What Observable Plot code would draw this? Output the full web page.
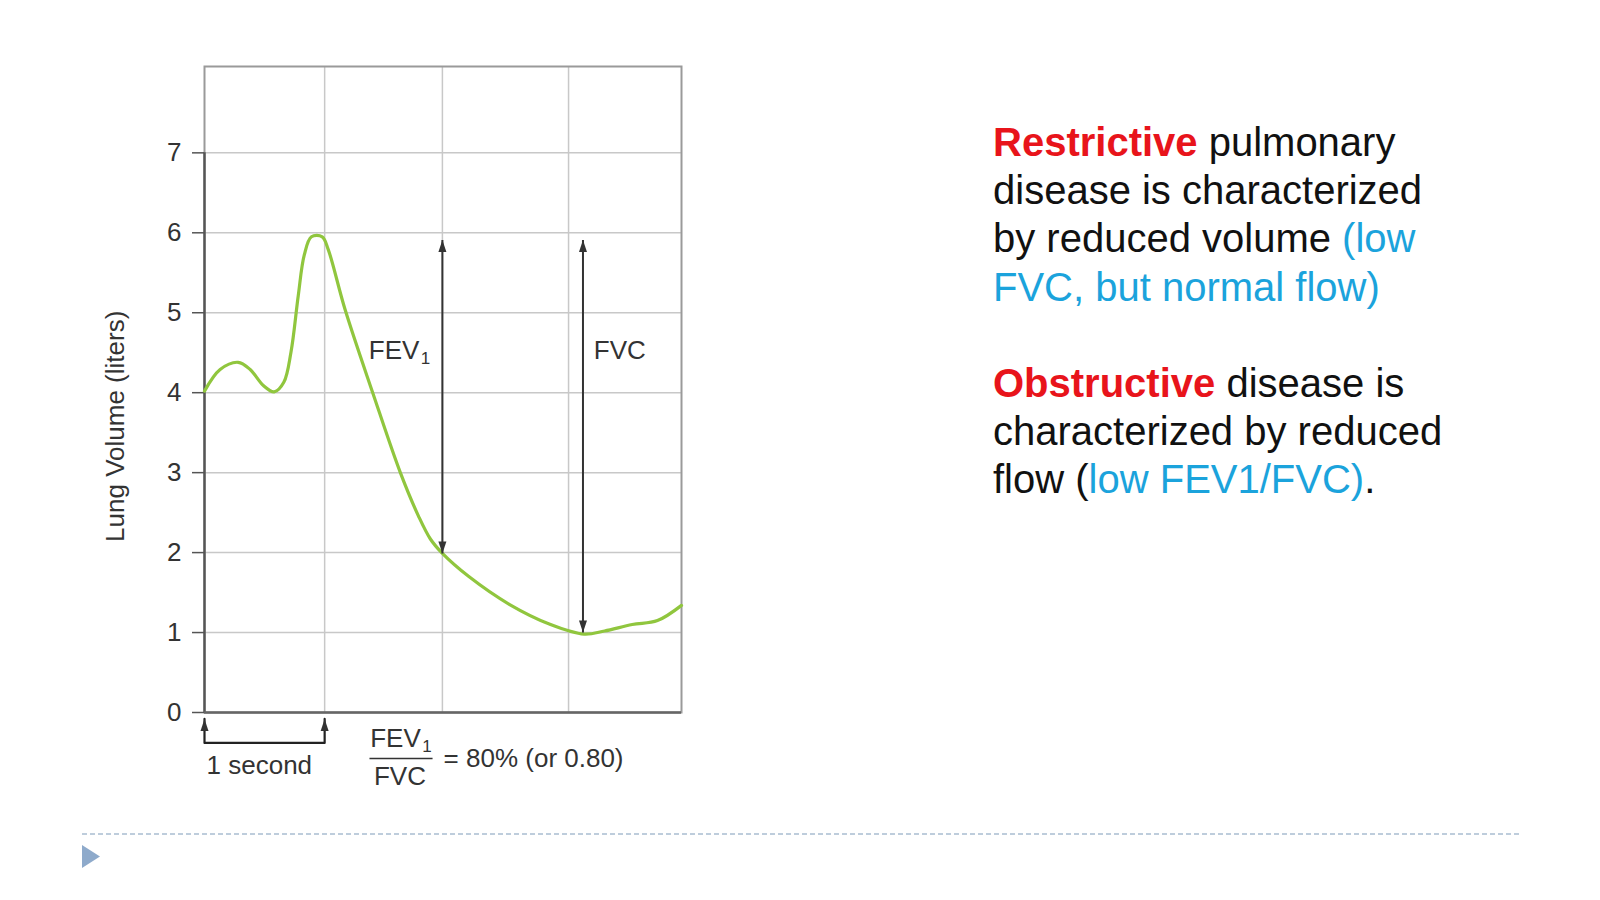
<!DOCTYPE html>
<html>
<head>
<meta charset="utf-8">
<script src="https://cdn.jsdelivr.net/npm/d3@7"></script>
<script src="https://cdn.jsdelivr.net/npm/@observablehq/plot@0.6"></script>
<style>
  html, body { margin: 0; padding: 0; background: #fff; }
  #page { position: relative; width: 1600px; height: 900px; overflow: hidden; font-family: "Liberation Sans", Arial, sans-serif; }
  #chart { position: absolute; left: 0; top: 0; }
  #notes { position: absolute; left: 993px; top: 118px; font-size: 40px; line-height: 48.2px; color: #111; white-space: nowrap; }
  #notes p { margin: 0 0 48.2px 0; }
  .red { color: #e8141b; font-weight: bold; }
  .blue { color: #1ba3dc; }
  #deco { position: absolute; left: 0; top: 0; }
</style>
</head>
<body>
<div id="page">
  <div id="chart"></div>
  <div id="notes">
    <p><span class="red">Restrictive</span> pulmonary<br>disease is characterized<br>by reduced volume <span class="blue">(low<br>FVC, but normal flow)</span></p>
    <p><span class="red">Obstructive</span> disease is<br>characterized by reduced<br>flow (<span class="blue">low FEV1/FVC)</span>.</p>
  </div>
  <svg id="deco" width="1600" height="900">
    <line x1="82" x2="1521" y1="834" y2="834" stroke="#a9bdd1" stroke-width="1.5" stroke-dasharray="5,3"></line>
    <polygon points="82,845 100,856.5 82,868" fill="#8eaacb"></polygon>
  </svg>
</div>
<script>
// Data
const yTicks = [0, 1, 2, 3, 4, 5, 6, 7];
const gridY = [1, 2, 3, 4, 5, 6, 7];
const gridX = [1, 1.98, 3.03];
const timeSec = [0, 0.13, 0.28, 0.38, 0.49, 0.58, 0.66, 0.72, 0.78, 0.83, 0.89, 0.98, 1.03, 1.17, 1.40, 1.63, 1.78, 1.88, 1.98, 2.20, 2.54, 2.88, 3.16, 3.33, 3.56, 3.77, 3.97];
const volumeL = [4.02, 4.29, 4.38, 4.29, 4.09, 4.01, 4.13, 4.51, 5.21, 5.72, 5.95, 5.95, 5.79, 5.04, 4.00, 3.00, 2.46, 2.17, 1.99, 1.70, 1.35, 1.10, 0.98, 1.02, 1.10, 1.15, 1.34];
const arrowX = [1.98, 3.15];
const arrowBottom = [1.99, 1.0];
const arrowTop = [5.91, 5.91];
const bracketX = [0, 0, 1, 1];
const bracketY = [-0.08, -0.38, -0.38, -0.08];

const curve = timeSec.map((t, i) => ({t, v: volumeL[i]}));
const bracket = bracketX.map((x, i) => ({x, y: bracketY[i]}));
const arrows = arrowX.map((x, i) => ({x, from: arrowBottom[i], to: arrowTop[i]}));
const headsUp = [
  ...arrows.map(a => ({x: a.x, y: a.to})),
  {x: bracketX[0], y: bracketY[0]},
  {x: bracketX[3], y: bracketY[3]}
];
const headsDown = arrows.map(a => ({x: a.x, y: a.from}));
const ink = "#333";
const fs = 26;
const sub = 17;

const chart = Plot.plot({
  width: 715,
  height: 820,
  marginLeft: 204,
  marginRight: 34,
  marginTop: 66,
  marginBottom: 108,
  x: {domain: [0, 3.97], axis: null},
  y: {domain: [0, 8.08], label: null},
  style: {fontFamily: "Liberation Sans, Arial, sans-serif", fontSize: "26px", color: ink, background: "transparent", overflow: "visible"},
  marks: [
    Plot.ruleY(gridY, {stroke: "#c8c8c8", strokeWidth: 1.5}),
    Plot.ruleX(gridX, {stroke: "#c8c8c8", strokeWidth: 1.5}),
    Plot.frame({stroke: "#9a9a9a", strokeWidth: 2}),
    Plot.ruleX([0], {y1: 0, y2: 7, stroke: "#555", strokeWidth: 2.4}),
    Plot.ruleY([0], {stroke: "#666", strokeWidth: 2.4}),
    Plot.axisY(yTicks, {tickSize: 12, tickPadding: 11, fontSize: fs, stroke: "#555", strokeWidth: 1.5, tickFormat: d => String(d), label: null}),
    Plot.line(curve, {x: "t", y: "v", stroke: "#90c63e", strokeWidth: 3.2, curve: "catmull-rom"}),
    Plot.link(arrows, {x1: "x", x2: "x", y1: "from", y2: "to", stroke: "#333", strokeWidth: 2}),
    Plot.line(bracket, {x: "x", y: "y", stroke: "#222", strokeWidth: 2.2}),
    Plot.vector(headsUp, {x: "x", y: "y", shape: "spike", anchor: "end", length: 12, r: 4, rotate: 0, fill: "#333", stroke: "none"}),
    Plot.vector(headsDown, {x: "x", y: "y", shape: "spike", anchor: "end", length: 12, r: 4, rotate: 180, fill: "#333", stroke: "none"}),
    // labels
    Plot.text(["FEV"], {x: 1.788, y: 4.53, textAnchor: "end", fontSize: fs, fill: ink}),
    Plot.text(["1"], {x: 1.80, y: 4.53, dy: 8, textAnchor: "start", fontSize: sub, fill: ink}),
    Plot.text(["FVC"], {x: 3.24, y: 4.53, textAnchor: "start", fontSize: fs, fill: ink}),
    Plot.text(["Lung Volume (liters)"], {x: -0.737, y: 3.58, rotate: -90, fontSize: fs, fill: ink}),
    Plot.text(["1 second"], {x: 0.017, y: -0.66, textAnchor: "start", fontSize: fs, fill: ink}),
    Plot.text(["FEV"], {x: 1.80, y: -0.33, textAnchor: "end", fontSize: fs, fill: ink}),
    Plot.text(["1"], {x: 1.812, y: -0.33, dy: 8, textAnchor: "start", fontSize: sub, fill: ink}),
    Plot.link([0], {x1: 1.373, x2: 1.898, y1: -0.575, y2: -0.575, stroke: "#333", strokeWidth: 1.5}),
    Plot.text(["FVC"], {x: 1.627, y: -0.80, textAnchor: "middle", fontSize: fs, fill: ink}),
    Plot.text(["= 80% (or 0.80)"], {x: 1.99, y: -0.575, textAnchor: "start", fontSize: fs, fill: ink})
  ]
});
document.getElementById("chart").appendChild(chart);
</script>
</body>
</html>
